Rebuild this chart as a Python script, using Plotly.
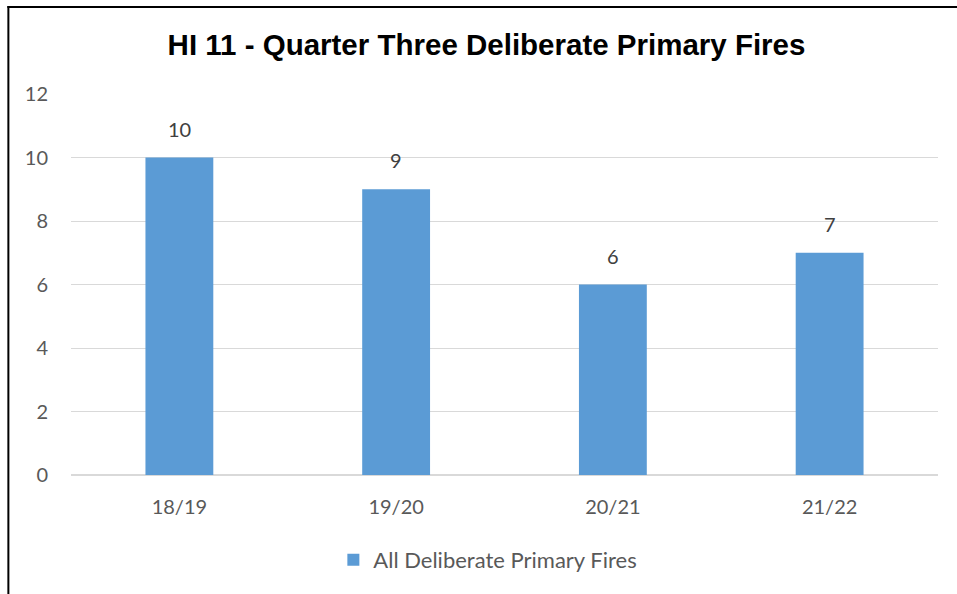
import plotly.graph_objects as go

categories = ["18/19", "19/20", "20/21", "21/22"]
values = [10, 9, 6, 7]
series_name = "All Deliberate Primary Fires"
title_text = "HI 11 - Quarter Three Deliberate Primary Fires"
y_ticks = [0, 2, 4, 6, 8, 10, 12]

fig = go.Figure()
fig.add_trace(go.Bar(
    x=categories, y=values, name=series_name,
    marker=dict(color="#5B9BD5", line=dict(width=0)),
))

for c, v in zip(categories, values):
    fig.add_annotation(x=c, y=v, text=str(v), showarrow=False, yanchor="bottom",
                       yshift=15, font=dict(family="Lato", size=20, color="#404040"))

fig.update_layout(
    width=957, height=594,
    margin=dict(l=71, r=19, t=94, b=119),
    paper_bgcolor="white", plot_bgcolor="white",
    title=dict(text="<b>" + title_text + "</b>", x=486.5/957, xanchor="center",
               y=1 - 45/594, yanchor="middle",
               font=dict(family="Liberation Sans", size=29.5, color="black")),
    bargap=0.687,
    showlegend=True,
    legend=dict(orientation="h", x=0.5 - 17/886, xanchor="center", y=-85/381, yanchor="middle",
                font=dict(family="Lato", size=22, color="#595959")),
    font=dict(family="Lato", size=20, color="#595959"),
)
fig.update_yaxes(range=[0, 12], tickvals=y_ticks, showgrid=True, gridcolor="#D9D9D9",
                 gridwidth=1, zeroline=True, zerolinecolor="#D9D9D9", showline=False,
                 ticks="", ticklabelstandoff=22, tickfont=dict(size=20, color="#595959"))
fig.update_xaxes(showline=False, ticks="", ticklabelstandoff=18,
                 tickfont=dict(size=20, color="#595959"))

# chart border (left and top edges visible in the cropped image)
fig.add_shape(type="line", xref="paper", yref="paper", x0=-64/886, x1=-64/886,
              y0=1 + 88/381, y1=-125/381, line=dict(color="black", width=2))
fig.add_shape(type="line", xref="paper", yref="paper", x0=-65/886, x1=1 + 30/886,
              y0=1 + 87/381, y1=1 + 87/381, line=dict(color="black", width=2))

fig.write_html("out.html", config={"displayModeBar": False},
               post_script="document.body.style.margin='0';")
